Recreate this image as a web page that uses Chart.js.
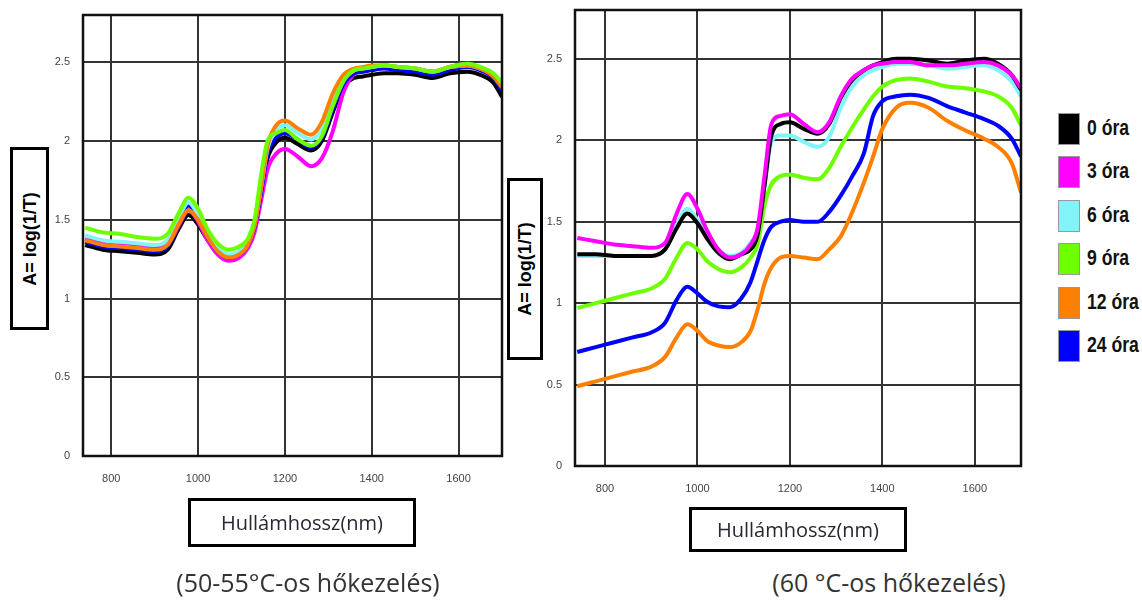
<!DOCTYPE html>
<html>
<head>
<meta charset="utf-8">
<script src="https://cdn.jsdelivr.net/npm/chart.js@4.4.0/dist/chart.umd.min.js"></script>
<style>
  body { margin: 0; background: #fff; width: 1142px; height: 601px; position: relative; overflow: hidden; }
  canvas { position: absolute; top: 0; }
  #leftChart { left: 0; }
  #rightChart { left: 500px; }
  .ytitle { position: absolute; border: 3px solid #000; box-sizing: border-box; background: #fff; }
  .ytitle span { position: absolute; left: 50%; top: 50%; transform: translate(-50%, -50%) rotate(-90deg);
    white-space: nowrap; font: bold 18px "Liberation Sans", Arial, sans-serif; color: #000; }
  .xtitle { position: absolute; border: 3px solid #000; box-sizing: border-box; display: flex;
    align-items: center; justify-content: center; font: 20px "Open Sans", sans-serif; color: #2b2533; }
  .caption { position: absolute; top: 565px; font: 25px "Open Sans", sans-serif; color: #333; white-space: nowrap; transform: translateX(-50%); }
  .legItem { position: absolute; left: 1058px; height: 31px; }
  .legItem i { position: absolute; left: 0; top: 0; width: 20px; height: 30px; border: 1px solid #999; }
  .legItem b { position: absolute; left: 29px; top: 2px; font: bold 22px "Liberation Sans", Arial, sans-serif; color: #111;
    white-space: nowrap; transform: scaleX(0.8); transform-origin: left center; }
</style>
</head>
<body>
<canvas id="leftChart" width="520" height="500"></canvas>
<canvas id="rightChart" width="530" height="510"></canvas>

<div class="ytitle" style="left:10px;top:147px;width:39px;height:183px"><span>A= log(1/T)</span></div>
<div class="ytitle" style="left:507px;top:178px;width:36px;height:182px"><span>A= log(1/T)</span></div>
<div class="xtitle" style="left:188px;top:498px;width:228px;height:49px">Hullámhossz(nm)</div>
<div class="xtitle" style="left:689px;top:507px;width:218px;height:45px">Hullámhossz(nm)</div>
<div class="caption" style="left:308px">(50-55°C-os hőkezelés)</div>
<div class="caption" style="left:889px">(60 °C-os hőkezelés)</div>
<div id="legend"></div>

<script>
// wavelengths (nm) shared by every curve
const wavelengths = [740, 780, 820, 860, 900, 930, 955, 978, 1000, 1020, 1045, 1070, 1095, 1115, 1130, 1145, 1160, 1180,
  1200, 1230, 1260, 1285, 1310, 1335, 1360, 1380, 1400, 1430, 1460, 1500, 1540, 1580, 1620, 1650, 1680, 1700]

const xTicks = [800, 1000, 1200, 1400, 1600]
const yTicks = [0, 0.5, 1, 1.5, 2, 2.5]

const seriesNames = ['0 óra', '3 óra', '6 óra', '9 óra', '12 óra', '24 óra']
const seriesColors = ['#000000', '#ff00ff', '#80f4f8', '#6eff00', '#ff7f00', '#0000ff']

// 50-55 °C treatment
const left0 = [1.34,1.31,1.30,1.29,1.28,1.31,1.44,1.53,1.47,1.38,1.29,1.25,1.27,1.33,1.44,1.68,1.89,1.99,2.02,1.98,1.94,2.00,2.18,2.35,2.40,2.41,2.42,2.43,2.43,2.42,2.40,2.43,2.44,2.42,2.37,2.28]
const left3 = [1.38,1.35,1.34,1.33,1.32,1.34,1.46,1.56,1.49,1.38,1.28,1.24,1.26,1.32,1.42,1.62,1.82,1.92,1.95,1.90,1.84,1.89,2.06,2.31,2.43,2.45,2.47,2.48,2.47,2.46,2.44,2.47,2.49,2.46,2.41,2.35]
const left6 = [1.40,1.37,1.36,1.35,1.34,1.37,1.51,1.61,1.53,1.42,1.32,1.28,1.30,1.36,1.47,1.70,1.95,2.07,2.10,2.05,2.01,2.08,2.25,2.39,2.45,2.46,2.47,2.48,2.47,2.46,2.44,2.47,2.48,2.46,2.42,2.36]
const left9 = [1.45,1.42,1.41,1.39,1.38,1.41,1.54,1.64,1.57,1.45,1.35,1.31,1.33,1.38,1.50,1.78,2.00,2.05,2.07,2.01,1.97,2.03,2.22,2.38,2.45,2.46,2.47,2.48,2.47,2.46,2.44,2.47,2.49,2.47,2.43,2.37]
const left12 = [1.37,1.34,1.33,1.32,1.31,1.34,1.47,1.56,1.50,1.40,1.30,1.26,1.28,1.34,1.46,1.70,1.97,2.10,2.13,2.08,2.04,2.12,2.30,2.42,2.46,2.47,2.48,2.48,2.47,2.46,2.44,2.47,2.48,2.46,2.41,2.34]
const left24 = [1.36,1.33,1.32,1.31,1.30,1.33,1.48,1.59,1.51,1.40,1.30,1.26,1.28,1.34,1.45,1.67,1.92,2.02,2.05,2.01,1.96,2.02,2.20,2.36,2.43,2.44,2.45,2.46,2.45,2.44,2.42,2.45,2.47,2.45,2.40,2.32]

// 60 °C treatment
const right0 = [1.30,1.30,1.29,1.29,1.29,1.33,1.46,1.55,1.49,1.40,1.31,1.27,1.30,1.33,1.42,1.72,2.03,2.10,2.11,2.07,2.04,2.10,2.26,2.37,2.43,2.46,2.48,2.50,2.50,2.49,2.47,2.49,2.50,2.47,2.40,2.31]
const right3 = [1.40,1.38,1.36,1.35,1.34,1.37,1.55,1.67,1.58,1.45,1.33,1.28,1.30,1.36,1.46,1.78,2.10,2.15,2.16,2.10,2.05,2.11,2.27,2.38,2.43,2.46,2.47,2.48,2.48,2.46,2.46,2.47,2.48,2.46,2.40,2.32]
const right6 = [1.29,1.29,1.29,1.29,1.29,1.33,1.48,1.58,1.51,1.42,1.33,1.29,1.31,1.37,1.45,1.72,1.99,2.03,2.03,1.99,1.96,2.02,2.20,2.33,2.40,2.43,2.45,2.47,2.47,2.46,2.44,2.45,2.46,2.43,2.36,2.27]
const right9 = [0.97,1.00,1.03,1.06,1.09,1.15,1.28,1.37,1.33,1.26,1.21,1.19,1.22,1.28,1.36,1.60,1.73,1.78,1.79,1.77,1.76,1.83,1.96,2.08,2.19,2.27,2.33,2.37,2.38,2.36,2.33,2.32,2.30,2.27,2.20,2.09]
const right12 = [0.49,0.52,0.55,0.58,0.61,0.67,0.79,0.87,0.83,0.77,0.74,0.73,0.76,0.83,0.96,1.12,1.22,1.28,1.29,1.28,1.27,1.33,1.41,1.56,1.74,1.90,2.07,2.20,2.23,2.20,2.12,2.06,2.01,1.96,1.86,1.68]
const right24 = [0.70,0.73,0.76,0.79,0.82,0.88,1.02,1.10,1.06,1.01,0.98,0.975,1.03,1.13,1.26,1.39,1.47,1.50,1.51,1.50,1.50,1.56,1.66,1.78,1.92,2.15,2.24,2.27,2.28,2.26,2.21,2.17,2.13,2.09,2.01,1.90]

// draw a closed frame around the plot area
const framePlugin = {
  id: 'frame',
  afterDraw(chart) {
    const a = chart.chartArea
    const ctx = chart.ctx
    ctx.save()
    ctx.strokeStyle = '#111'
    ctx.lineWidth = 2.5
    ctx.strokeRect(a.left, a.top, a.right - a.left, a.bottom - a.top)
    ctx.restore()
  }
}

function makeDatasets(series, drawOrder) {
  return series.map((values, i) => ({
    label: seriesNames[i],
    data: wavelengths.map((w, k) => ({ x: w, y: values[k] })),
    borderColor: seriesColors[i],
    borderWidth: 4,
    pointRadius: 0,
    fill: false,
    cubicInterpolationMode: 'monotone',
    order: drawOrder[i]
  }))
}

function createSpectrumChart(id, series, drawOrder, box) {
  const ctx = document.getElementById(id)
  const tickFont = { family: '"Liberation Sans", sans-serif', size: 11 }

  new Chart(ctx, {
    type: 'line',
    data: { datasets: makeDatasets(series, drawOrder) },
    options: {
      responsive: false,
      animation: false,
      devicePixelRatio: 1,
      layout: { padding: { left: 0, top: box.top, right: box.right, bottom: 0 } },
      plugins: { legend: { display: false }, tooltip: { enabled: false } },
      scales: {
        x: {
          type: 'linear',
          min: 735,
          max: 1700,
          afterBuildTicks: scale => { scale.ticks = xTicks.map(v => ({ value: v })) },
          afterFit: scale => {
            scale.height = box.xHeight
            scale.paddingLeft = 0
            scale.paddingRight = 0
          },
          grid: { color: '#333', lineWidth: 2, drawTicks: false },
          border: { display: false },
          ticks: { font: tickFont, color: '#444', padding: 16, maxRotation: 0, callback: v => String(v) }
        },
        y: {
          min: 0,
          max: 2.8,
          afterBuildTicks: scale => { scale.ticks = yTicks.map(v => ({ value: v })) },
          afterFit: scale => {
            scale.width = box.yWidth
            scale.paddingTop = 0
            scale.paddingBottom = 0
          },
          grid: { color: '#333', lineWidth: 2, drawTicks: false },
          border: { display: false },
          ticks: { font: tickFont, color: '#444', padding: 13, callback: v => String(v) }
        }
      }
    },
    plugins: [framePlugin]
  })
}

function createLegend() {
  const holder = document.getElementById('legend')
  seriesNames.forEach((name, i) => {
    const item = document.createElement('div')
    item.className = 'legItem'
    item.style.top = (113 + i * 43.4) + 'px'
    item.innerHTML = `<i style="background:${seriesColors[i]}"></i><b>${name}</b>`
    holder.appendChild(item)
  })
}

function mainEvent() {
  // lower order value = drawn on top
  createSpectrumChart('leftChart', [left0, left3, left6, left9, left12, left24], [6, 5, 3, 1, 2, 4],
    { top: 15, right: 18, xHeight: 44, yWidth: 83 })
  createSpectrumChart('rightChart', [right0, right3, right6, right9, right12, right24], [2, 1, 3, 4, 5, 6],
    { top: 10, right: 9, xHeight: 44, yWidth: 75 })
  createLegend()
}

document.addEventListener('DOMContentLoaded', () => mainEvent());
</script>
</body>
</html>
